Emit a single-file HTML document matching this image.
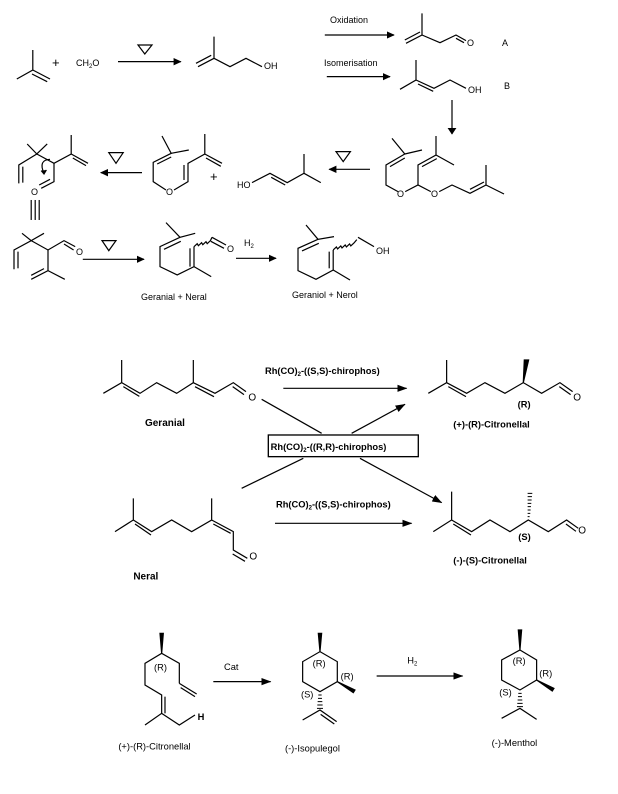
<!DOCTYPE html>
<html><head><meta charset="utf-8"><style>
html,body{margin:0;padding:0;background:#fff;}
svg{display:block;}
text{font-family:"Liberation Sans",sans-serif;fill:#000;}
</style></head><body>
<svg width="618" height="794" viewBox="0 0 618 794" xmlns="http://www.w3.org/2000/svg">
<defs>
<marker id="ah" markerWidth="30" markerHeight="22" refX="28" refY="11" orient="auto" markerUnits="userSpaceOnUse">
<path d="M0,0 L30,11 L0,22 z" fill="#000"/></marker>
<marker id="ah1" markerWidth="20" markerHeight="22" refX="18" refY="11" orient="auto" markerUnits="userSpaceOnUse">
<path d="M0,0 L20,11 L0,22 z" fill="#000"/></marker>
</defs>

<!-- SECTION 1 -->
<g transform="scale(0.4,0.3333)" stroke="#000" stroke-width="1.2" fill="none">
<g vector-effect="non-scaling-stroke">
<polyline vector-effect="non-scaling-stroke" points="42,237 82,210 82,150"/><line vector-effect="non-scaling-stroke" x1="82" y1="210" x2="125" y2="237"/><line vector-effect="non-scaling-stroke" x1="80" y1="222" x2="118" y2="245"/>
<line vector-effect="non-scaling-stroke" x1="295" y1="185" x2="452" y2="185" marker-end="url(#ah1)"/>
<polygon vector-effect="non-scaling-stroke" points="345,135 380,135 362,162"/>
<polyline vector-effect="non-scaling-stroke" points="495,200 535,175 535,110"/><line vector-effect="non-scaling-stroke" x1="490" y1="190" x2="528" y2="166"/><polyline vector-effect="non-scaling-stroke" points="535,175 575,200 615,175 655,200"/>
<line vector-effect="non-scaling-stroke" x1="812" y1="105" x2="985" y2="105" marker-end="url(#ah1)"/>
<polyline vector-effect="non-scaling-stroke" points="1015,130 1055,105 1055,40"/><line vector-effect="non-scaling-stroke" x1="1012" y1="120" x2="1050" y2="96"/><polyline vector-effect="non-scaling-stroke" points="1055,105 1100,128 1140,105 1165,122"/><line vector-effect="non-scaling-stroke" x1="1140" y1="115" x2="1160" y2="128"/>
<line vector-effect="non-scaling-stroke" x1="817" y1="230" x2="975" y2="230" marker-end="url(#ah1)"/>
<polyline vector-effect="non-scaling-stroke" points="1000,268 1040,240 1040,180"/><polyline vector-effect="non-scaling-stroke" points="1040,240 1085,265 1125,240 1165,265"/><line vector-effect="non-scaling-stroke" x1="1045" y1="252" x2="1083" y2="274"/>
<line vector-effect="non-scaling-stroke" x1="1130" y1="300" x2="1130" y2="402" marker-end="url(#ah1)"/>
<polyline vector-effect="non-scaling-stroke" points="995,575 965,555 965,495 1012,462 980,415"/><line vector-effect="non-scaling-stroke" x1="975" y1="500" x2="1012" y2="474"/><line vector-effect="non-scaling-stroke" x1="1012" y1="462" x2="1055" y2="450"/>
<polyline vector-effect="non-scaling-stroke" points="1013,575 1045,555 1077,575"/><polyline vector-effect="non-scaling-stroke" points="1045,555 1045,495 1090,465 1090,408"/><line vector-effect="non-scaling-stroke" x1="1055" y1="500" x2="1092" y2="476"/><line vector-effect="non-scaling-stroke" x1="1090" y1="465" x2="1135" y2="495"/>
<polyline vector-effect="non-scaling-stroke" points="1098,575 1130,555 1175,580 1215,555 1215,495"/><line vector-effect="non-scaling-stroke" x1="1175" y1="568" x2="1210" y2="546"/><line vector-effect="non-scaling-stroke" x1="1215" y1="555" x2="1260" y2="582"/>
<line vector-effect="non-scaling-stroke" x1="925" y1="508" x2="823" y2="508" marker-end="url(#ah1)"/>
<polygon vector-effect="non-scaling-stroke" points="840,455 876,455 858,485"/>
<polyline vector-effect="non-scaling-stroke" points="630,548 675,520 718,548 760,520 760,462"/><line vector-effect="non-scaling-stroke" x1="678" y1="532" x2="713" y2="555"/><line vector-effect="non-scaling-stroke" x1="760" y1="520" x2="802" y2="548"/>
<polyline vector-effect="non-scaling-stroke" points="415,570 383,545 383,487 428,460 405,408"/><line vector-effect="non-scaling-stroke" x1="393" y1="492" x2="428" y2="471"/><line vector-effect="non-scaling-stroke" x1="428" y1="460" x2="472" y2="450"/>
<polyline vector-effect="non-scaling-stroke" points="435,570 470,545 470,490 512,462 512,402"/><line vector-effect="non-scaling-stroke" x1="460" y1="540" x2="460" y2="495"/><line vector-effect="non-scaling-stroke" x1="512" y1="462" x2="555" y2="490"/><line vector-effect="non-scaling-stroke" x1="515" y1="474" x2="552" y2="499"/>
<line vector-effect="non-scaling-stroke" x1="355" y1="518" x2="252" y2="518" marker-end="url(#ah1)"/>
<polygon vector-effect="non-scaling-stroke" points="272,458 308,458 290,490"/>
<polyline vector-effect="non-scaling-stroke" points="47,550 47,495 92,462 68,432"/><line vector-effect="non-scaling-stroke" x1="57" y1="548" x2="57" y2="500"/><line vector-effect="non-scaling-stroke" x1="92" y1="462" x2="118" y2="432"/><polyline vector-effect="non-scaling-stroke" points="92,462 135,490 178,462 178,405"/><line vector-effect="non-scaling-stroke" x1="178" y1="462" x2="220" y2="490"/><line vector-effect="non-scaling-stroke" x1="182" y1="474" x2="215" y2="497"/><polyline vector-effect="non-scaling-stroke" points="135,490 135,545 103,565"/><line vector-effect="non-scaling-stroke" x1="125" y1="538" x2="98" y2="555"/>
<path vector-effect="non-scaling-stroke" d="M125,478 Q95,480 110,520"/><path vector-effect="non-scaling-stroke" d="M103,512 L110,522 L116,510" fill="#000"/>
<line vector-effect="non-scaling-stroke" x1="78" y1="600" x2="78" y2="660"/><line vector-effect="non-scaling-stroke" x1="88" y1="600" x2="88" y2="660"/><line vector-effect="non-scaling-stroke" x1="98" y1="600" x2="98" y2="660"/>
<polyline vector-effect="non-scaling-stroke" points="35,808 35,750 78,722 55,700"/><line vector-effect="non-scaling-stroke" x1="45" y1="805" x2="45" y2="755"/><line vector-effect="non-scaling-stroke" x1="78" y1="722" x2="110" y2="700"/><polyline vector-effect="non-scaling-stroke" points="78,722 120,750 160,722 188,740"/><line vector-effect="non-scaling-stroke" x1="160" y1="732" x2="184" y2="750"/><polyline vector-effect="non-scaling-stroke" points="120,750 120,812 78,838"/><line vector-effect="non-scaling-stroke" x1="110" y1="806" x2="78" y2="826"/><line vector-effect="non-scaling-stroke" x1="120" y1="812" x2="162" y2="838"/>
<line vector-effect="non-scaling-stroke" x1="207" y1="778" x2="360" y2="778" marker-end="url(#ah1)"/>
<polygon vector-effect="non-scaling-stroke" points="255,722 290,722 272,752"/>
<polyline vector-effect="non-scaling-stroke" points="415,668 450,712 488,700"/><polyline vector-effect="non-scaling-stroke" points="450,712 400,740 400,800 443,825 485,800 485,740"/><line vector-effect="non-scaling-stroke" x1="452" y1="724" x2="410" y2="748"/><line vector-effect="non-scaling-stroke" x1="475" y1="800" x2="475" y2="745"/><line vector-effect="non-scaling-stroke" x1="485" y1="800" x2="528" y2="830"/>
<path vector-effect="non-scaling-stroke" d="M485,740 l8,-9 l3,6 l8,-9 l3,6 l8,-9 l3,6 l8,-9 l4,-10"/>
<polyline vector-effect="non-scaling-stroke" points="530,712 565,735"/><line vector-effect="non-scaling-stroke" x1="527" y1="724" x2="560" y2="745"/>
<line vector-effect="non-scaling-stroke" x1="590" y1="775" x2="690" y2="775" marker-end="url(#ah1)"/>
<polyline vector-effect="non-scaling-stroke" points="765,675 795,718 835,710"/><polyline vector-effect="non-scaling-stroke" points="795,718 745,745 745,812 790,838 833,810 833,750"/><line vector-effect="non-scaling-stroke" x1="797" y1="730" x2="755" y2="753"/><line vector-effect="non-scaling-stroke" x1="823" y1="805" x2="823" y2="755"/><line vector-effect="non-scaling-stroke" x1="833" y1="810" x2="875" y2="840"/>
<path vector-effect="non-scaling-stroke" d="M833,750 l8,-9 l3,6 l8,-9 l3,6 l8,-9 l3,6 l8,-9 l3,6 l8,-9 l7,-10"/>
<line vector-effect="non-scaling-stroke" x1="895" y1="712" x2="935" y2="740"/>
</g>
</g>
<g font-size="9">
<text x="52" y="67" font-size="13">+</text>
<text x="76" y="66">CH<tspan font-size="6" dy="2">2</tspan><tspan dy="-2">O</tspan></text>
<text x="264" y="69">OH</text>
<text x="330" y="23">Oxidation</text>
<text x="467" y="46">O</text>
<text x="502" y="46">A</text>
<text x="324" y="66">Isomerisation</text>
<text x="468" y="93">OH</text>
<text x="504" y="89">B</text>
<text x="397" y="197">O</text>
<text x="431" y="197">O</text>
<text x="237" y="188">HO</text>
<text x="210" y="181" font-size="13">+</text>
<text x="166" y="195">O</text>
<text x="31" y="195">O</text>
<text x="76" y="255">O</text>
<text x="227" y="252">O</text>
<text x="376" y="254">OH</text>
<text x="244" y="246">H<tspan font-size="6" dy="2">2</tspan></text>
<text x="141" y="300">Geranial + Neral</text>
<text x="292" y="298">Geraniol + Nerol</text>
</g>

<!-- SECTION 2 -->
<g transform="translate(90,350) scale(0.3333)" stroke="#000" stroke-width="3.6" fill="none">
<polyline points="40,130 95,98 95,30"/><polyline points="95,98 150,130 200,98 260,130 310,98 310,30"/><line x1="100" y1="110" x2="148" y2="139"/><polyline points="310,98 375,130 430,98 468,125"/><line x1="315" y1="110" x2="372" y2="140"/><line x1="428" y1="110" x2="462" y2="134"/>
<line x1="580" y1="115" x2="950" y2="115" marker-end="url(#ah)"/>
<polyline points="1015,130 1070,98 1070,30"/><polyline points="1070,98 1130,130 1185,98 1245,130 1300,98 1355,130 1410,98 1448,125"/><line x1="1075" y1="110" x2="1128" y2="140"/><line x1="1408" y1="110" x2="1442" y2="134"/>
<polygon points="1300,98 1303,30 1316,30" fill="#000"/>
<line x1="515" y1="148" x2="695" y2="250"/><line x1="785" y1="250" x2="945" y2="163" marker-end="url(#ah)"/>
<rect x="535" y="255" width="450" height="65" stroke-width="4"/>
<line x1="640" y1="325" x2="455" y2="415"/><line x1="810" y1="325" x2="1055" y2="458" marker-end="url(#ah)"/>
<polyline points="75,545 130,510 130,445"/><polyline points="130,510 185,545 245,510 305,545 365,510 365,445"/><line x1="135" y1="522" x2="183" y2="555"/><polyline points="365,510 430,545 430,600 472,625"/><line x1="370" y1="522" x2="422" y2="550"/><line x1="428" y1="612" x2="465" y2="634"/>
<line x1="555" y1="520" x2="965" y2="520" marker-end="url(#ah)"/>
<polyline points="1030,545 1085,510 1085,425"/><polyline points="1085,510 1145,545 1200,510 1260,545 1315,510 1375,545 1430,510 1465,535"/><line x1="1090" y1="522" x2="1143" y2="555"/><line x1="1428" y1="522" x2="1458" y2="544"/>
<path d="M1313,500 h6 M1313,490 h8 M1313,480 h9 M1313,470 h10 M1313,460 h11 M1313,450 h12 M1313,440 h13 M1313,430 h14" stroke-width="3"/>
<g stroke="none" font-weight="bold" font-size="30">
<text x="475" y="152" font-weight="normal">O</text>
<text x="165" y="228">Geranial</text>
<text x="525" y="72" font-size="28">Rh(CO)<tspan font-size="18" dy="6">2</tspan><tspan dy="-6">-((S,S)-chirophos)</tspan></text>
<text x="1450" y="152" font-weight="normal">O</text>
<text x="1283" y="172" font-size="28">(R)</text>
<text x="1090" y="232" font-size="28">(+)-(R)-Citronellal</text>
<text x="542" y="300" font-size="28">Rh(CO)<tspan font-size="18" dy="6">2</tspan><tspan dy="-6">-((R,R)-chirophos)</tspan></text>
<text x="558" y="472" font-size="28">Rh(CO)<tspan font-size="18" dy="6">2</tspan><tspan dy="-6">-((S,S)-chirophos)</tspan></text>
<text x="478" y="628" font-weight="normal">O</text>
<text x="130" y="688">Neral</text>
<text x="1465" y="550" font-weight="normal">O</text>
<text x="1285" y="570" font-size="28">(S)</text>
<text x="1090" y="640" font-size="28">(-)-(S)-Citronellal</text>
</g>
</g>

<!-- SECTION 3 -->
<g transform="translate(100,620) scale(0.3333)" stroke="#000" stroke-width="3.6" fill="none">
<polygon points="185,100 180,40 190,40" fill="#000"/>
<polyline points="238,190 238,130 185,100 135,130 135,195 185,225 185,280 135,315"/><line x1="195" y1="230" x2="195" y2="280"/><polyline points="185,280 238,315 285,285"/><line x1="238" y1="190" x2="290" y2="222"/><line x1="242" y1="203" x2="285" y2="230"/>
<line x1="340" y1="185" x2="512" y2="185" marker-end="url(#ah)"/>
<polygon points="660,95 655,40 665,40" fill="#000"/>
<polygon points="660,95 712,125 712,185 660,215 608,185 608,125"/>
<polygon points="712,185 765,210 760,218" fill="#000"/>
<path d="M655,225 h10 M654,235 h12 M653,245 h14 M652,255 h16 M651,265 h18" stroke-width="3"/>
<polyline points="608,300 660,270 710,305"/><line x1="662" y1="283" x2="703" y2="312"/>
<line x1="830" y1="168" x2="1088" y2="168" marker-end="url(#ah)"/>
<polygon points="1260,90 1255,30 1265,30" fill="#000"/>
<polygon points="1260,90 1310,120 1310,180 1260,210 1205,180 1205,120"/>
<polygon points="1310,180 1362,205 1357,213" fill="#000"/>
<path d="M1255,220 h10 M1254,230 h12 M1253,240 h14 M1252,250 h16 M1251,260 h18" stroke-width="3"/>
<polyline points="1205,295 1260,265 1310,298"/>
<g stroke="none" font-size="28">
<text x="293" y="300" font-weight="bold">H</text>
<text x="162" y="152">(R)</text>
<text x="372" y="150">Cat</text>
<text x="638" y="140">(R)</text>
<text x="722" y="178">(R)</text>
<text x="603" y="233">(S)</text>
<text x="922" y="130">H<tspan font-size="18" dy="6">2</tspan></text>
<text x="1238" y="132">(R)</text>
<text x="1318" y="170">(R)</text>
<text x="1198" y="226">(S)</text>
<text x="55" y="388">(+)-(R)-Citronellal</text>
<text x="555" y="394">(-)-Isopulegol</text>
<text x="1175" y="378">(-)-Menthol</text>
</g>
</g>
</svg>
</body></html>
